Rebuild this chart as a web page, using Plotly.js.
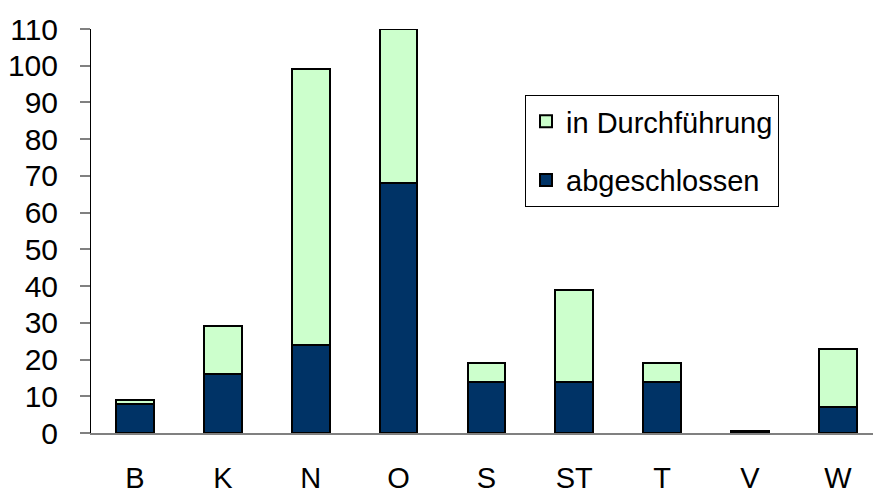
<!DOCTYPE html>
<html>
<head>
<meta charset="utf-8">
<script src="https://cdn.plot.ly/plotly-3.0.1.min.js"></script>
<style>html,body{margin:0;padding:0;background:#fff;}#chart{width:874px;height:495px;}</style>
</head>
<body>
<div id="chart"></div>
<script>
const categories = ["B", "K", "N", "O", "S", "ST", "T", "V", "W"];
const abgeschlossen = [8, 16, 24, 68, 14, 14, 14, 0.5, 7];
const inDurchfuehrung = [1, 13, 75, 42, 5, 25, 5, 0, 16];
const yTicks = [0, 10, 20, 30, 40, 50, 60, 70, 80, 90, 100, 110];

const font = "Liberation Sans, Arial, sans-serif";

const traces = [
  {
    type: "bar", name: "abgeschlossen", x: categories, y: abgeschlossen,
    legendgroup: "a", legendrank: 2,
    marker: {color: "#003366", line: {color: "#000000", width: 2}}
  },
  {
    type: "bar", name: "in Durchführung", x: categories, y: inDurchfuehrung,
    legendgroup: "b", legendrank: 1,
    marker: {color: "#CCFFCC", line: {color: "#000000", width: 2}}
  }
];

const layout = {
  width: 874, height: 495,
  margin: {l: 91, r: 1, t: 29, b: 62, pad: 0},
  paper_bgcolor: "#ffffff", plot_bgcolor: "#ffffff",
  barmode: "stack", bargap: 0.57,
  font: {family: font, size: 29, color: "#000000"},
  showlegend: true,
  legend: {
    x: 0.555, y: 0.837, xanchor: "left", yanchor: "top",
    traceorder: "grouped",
    bordercolor: "#000000", borderwidth: 1, bgcolor: "#ffffff",
    font: {family: font, size: 29, color: "#000000"},
    tracegroupgap: 18
  },
  xaxis: {
    type: "category", range: [-0.5, 8.4], showgrid: false, zeroline: false,
    showline: true, linecolor: "#808080", linewidth: 2,
    ticks: "", ticklabelstandoff: 18,
    tickfont: {family: font, size: 29}
  },
  yaxis: {
    range: [0, 110], tickvals: yTicks, showgrid: false, zeroline: false,
    showline: true, linecolor: "#000000", linewidth: 1,
    ticks: "outside", ticklen: 10, tickcolor: "#808080", tickwidth: 2,
    ticklabelstandoff: 16,
    tickfont: {family: font, size: 30}
  }
};

Plotly.newPlot("chart", traces, layout, {staticPlot: true, displayModeBar: false});
</script>
</body>
</html>
